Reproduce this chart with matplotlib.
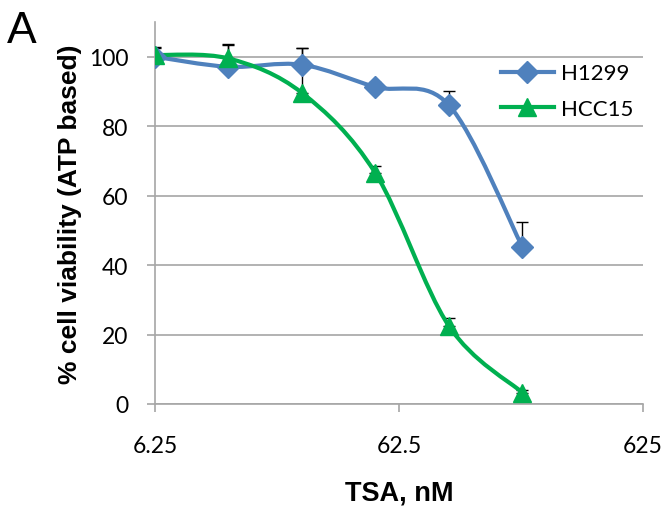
import numpy as np
import matplotlib
matplotlib.use("Agg")
import matplotlib.pyplot as plt
from matplotlib.path import Path
from matplotlib.patches import PathPatch
from matplotlib.lines import Line2D

# TSA dose (nM) and % viability
dose = [6.25, 12.5, 25, 50, 100, 200]
h1299 = [100.0, 97.1, 97.7, 91.3, 86.1, 45.3]
h1299_err = [2.5, 6.7, 4.7, 1.3, 3.9, 7.0]
hcc15 = [100.5, 99.5, 89.6, 66.5, 22.5, 3.3]
hcc15_err = [2.3, 4.0, 12.8, 2.0, 2.4, 0.8]

blue = "#4F81BD"
green = "#00B050"
grid_col = "#A6A6A6"


def smooth_path(x, y):
    # Excel-style smoothed line: cubic bezier segments, control points in log-x space
    lx = np.log10(x)
    y = np.asarray(y, float)
    n = len(lx)
    verts = [(x[0], y[0])]
    codes = [Path.MOVETO]
    for i in range(n - 1):
        i0 = max(i - 1, 0)
        i3 = min(i + 2, n - 1)
        c1 = (lx[i] + (lx[i + 1] - lx[i0]) / 6, y[i] + (y[i + 1] - y[i0]) / 6)
        c2 = (lx[i + 1] - (lx[i3] - lx[i]) / 6, y[i + 1] - (y[i3] - y[i]) / 6)
        verts += [(10 ** c1[0], c1[1]), (10 ** c2[0], c2[1]), (x[i + 1], y[i + 1])]
        codes += [Path.CURVE4] * 3
    return Path(verts, codes)


fig = plt.figure(figsize=(6.66, 5.10), dpi=100)
ax = fig.add_axes([0.2327, 0.2059, 0.7328, 0.749])
ax.set_xscale("log")
ax.set_xlim(6.25, 625)
ax.set_ylim(0, 110)

ax.set_yticks([0, 20, 40, 60, 80, 100])
ax.yaxis.grid(True, color=grid_col, lw=1.2)
ax.set_axisbelow(True)
ax.set_xticks([6.25, 62.5, 625])
ax.set_xticklabels(["6.25", "62.5", "625"])
ax.xaxis.set_minor_locator(matplotlib.ticker.NullLocator())

for s in ["top", "right"]:
    ax.spines[s].set_visible(False)
for s in ["left", "bottom"]:
    ax.spines[s].set_color(grid_col)
    ax.spines[s].set_linewidth(1.2)
ax.tick_params(axis="both", direction="out", length=6, width=1.2, color=grid_col,
               labelsize=16.5, labelcolor="black")
ax.tick_params(axis="x", pad=16)
ax.tick_params(axis="y", pad=13)
for lab in ax.get_xticklabels() + ax.get_yticklabels():
    lab.set_fontfamily("Lato")

# error bars (upper only)
ax.errorbar(dose, h1299, yerr=[np.zeros(len(dose)), h1299_err], fmt="none",
            ecolor="black", elinewidth=1, capsize=4, capthick=1, zorder=2)
ax.errorbar(dose, hcc15, yerr=[np.zeros(len(dose)), hcc15_err], fmt="none",
            ecolor="black", elinewidth=1, capsize=4, capthick=1, zorder=2)

for yv, col in [(h1299, blue), (hcc15, green)]:
    ax.add_patch(PathPatch(smooth_path(dose, yv), fill=False, edgecolor=col,
                           lw=3, capstyle="round", zorder=3))
ax.plot(dose, h1299, ls="none", marker="D", ms=11, color=blue, zorder=4)
ax.plot(dose, hcc15, ls="none", marker="^", ms=13, color=green, zorder=4)

handles = [Line2D([], [], color=blue, lw=3, marker="D", ms=11),
           Line2D([], [], color=green, lw=3, marker="^", ms=13)]
ax.legend(handles, ["H1299", "HCC15"], loc="upper left", bbox_to_anchor=(0.69, 0.915),
          frameon=False, handlelength=2.4, handletextpad=0.3, labelspacing=0.7,
          prop={"family": "Lato", "size": 16}, borderaxespad=0)

ax.set_xlabel("TSA, nM", fontsize=19.5, fontweight="bold", family="Liberation Sans", labelpad=17)
ax.set_ylabel("% cell viability (ATP based)", fontsize=19, fontweight="bold",
              family="Liberation Sans", labelpad=5)

fig.text(0.01, 0.978, "A", fontsize=32, family="Liberation Sans", va="top", ha="left")

fig.savefig("out.png", dpi=100)
